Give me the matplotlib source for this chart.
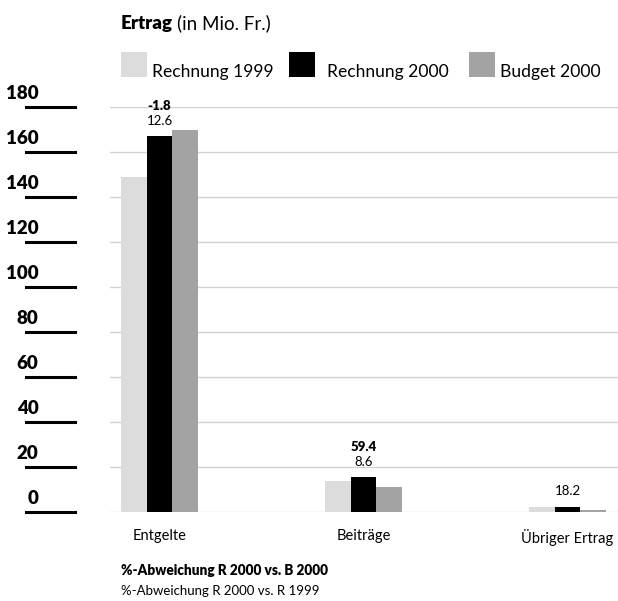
import matplotlib
matplotlib.use("Agg")
import matplotlib.pyplot as plt
from matplotlib.patches import Rectangle
from matplotlib.lines import Line2D
from matplotlib.transforms import blended_transform_factory, offset_copy

plt.rcParams['font.family'] = ['Lato', 'DejaVu Sans']

# Data (Mio. Fr.)
categories = ["Entgelte", "Beiträge", "Übriger Ertrag"]
series_names = ["Rechnung 1999", "Rechnung 2000", "Budget 2000"]
rechnung_1999 = [149.0, 13.8, 2.1]
rechnung_2000 = [167.1, 15.5, 2.4]
budget_2000 = [169.8, 11.1, 0.9]
pct_vs_budget = ["-1.8", "59.4", None]   # %-Abweichung R 2000 vs. B 2000
pct_vs_1999 = ["12.6", "8.6", "18.2"]    # %-Abweichung R 2000 vs. R 1999
y_ticks = [0, 20, 40, 60, 80, 100, 120, 140, 160, 180]

colors = ["#dcdcdc", "#000000", "#a3a3a3"]

W, H = 618, 601
fig = plt.figure(figsize=(W / 100, H / 100), dpi=100)
ax = fig.add_axes([110 / W, (H - 512) / H, (W - 110) / W, (512 - 107) / H])

bar_w = 0.125
xs = list(range(len(categories)))
for k, (vals, col) in enumerate(zip([rechnung_1999, rechnung_2000, budget_2000], colors)):
    ax.bar([x + (k - 1) * bar_w for x in xs], vals, width=bar_w, color=col,
           zorder=3, linewidth=0)

ax.set_xlim(-0.243, 2.248)
ax.set_ylim(0, 180)

# light horizontal grid
for t in y_ticks:
    ax.axhline(t, color="#d2d2d2", linewidth=1.0, zorder=1)

for s in ax.spines.values():
    s.set_visible(False)
ax.set_yticks([])
ax.set_xticks(xs)
ax.set_xticklabels(categories, fontsize=10.5)
ax.tick_params(axis="x", length=0, pad=12)

# y scale: bold numbers above short black rules at the left margin
trans = blended_transform_factory(fig.transFigure, ax.transData)
label_trans = offset_copy(trans, fig=fig, y=6, units="points")
for t in y_ticks:
    fig.add_artist(Line2D([26 / W, 75 / W], [t, t], transform=trans,
                          color="black", linewidth=2.2, clip_on=False))
    fig.text(38.5 / W, t, str(t), transform=label_trans, ha="right", va="baseline",
             fontsize=13.5, fontweight="heavy")

# deviation labels above the Rechnung 2000 bars
for x, v, pb, p9 in zip(xs, rechnung_2000, pct_vs_budget, pct_vs_1999):
    ax.annotate(p9, (x, v), xytext=(0, 8), textcoords="offset points",
                ha="center", va="baseline", fontsize=9.5)
    if pb is not None:
        ax.annotate(pb, (x, v), xytext=(0, 18.5), textcoords="offset points",
                    ha="center", va="baseline", fontsize=9.5, fontweight="heavy")

# title
t1 = fig.text(121 / W, 1 - 29 / H, "Ertrag", fontsize=13.5, fontweight="heavy",
              va="baseline", ha="left")
fig.canvas.draw()
bb = t1.get_window_extent()
fig.text((bb.x1 + 4) / W, 1 - 29 / H, "(in Mio. Fr.)", fontsize=13.5,
         va="baseline", ha="left")

# legend
legend_items = [(121, 152), (289, 327), (469, 500)]
for (sx, tx), name, col in zip(legend_items, series_names, colors):
    fig.add_artist(Rectangle((sx / W, 1 - 77 / H), 26 / W, 25 / H,
                             transform=fig.transFigure, color=col, linewidth=0))
    fig.text(tx / W, 1 - 77 / H, name, fontsize=12.6, va="baseline", ha="left")

# footnotes
fig.text(121 / W, 1 - 575 / H, "%-Abweichung R 2000 vs. B 2000", fontsize=9.8,
         fontweight="heavy", va="baseline", ha="left")
fig.text(121 / W, 1 - 595 / H, "%-Abweichung R 2000 vs. R 1999", fontsize=9.5,
         va="baseline", ha="left")

fig.savefig("out.png", dpi=100, facecolor="white")
